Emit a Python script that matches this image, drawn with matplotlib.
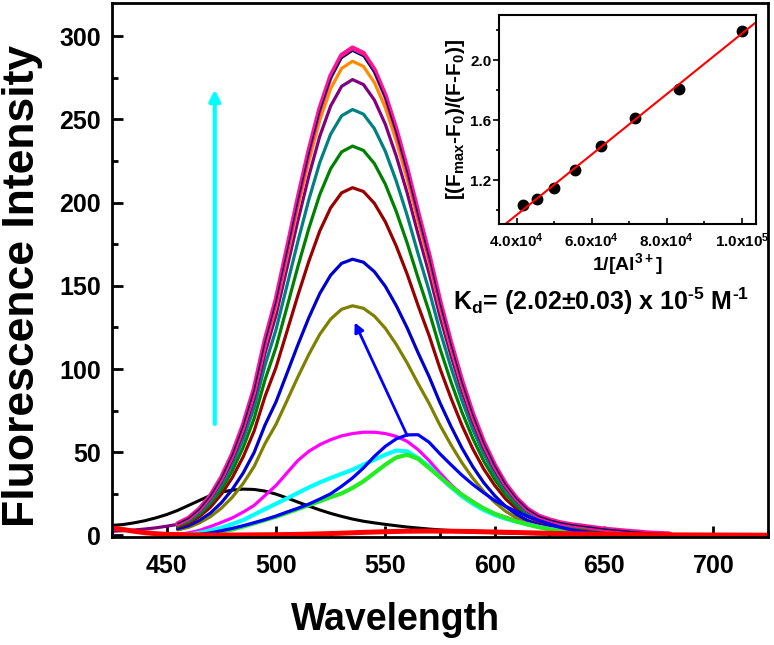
import numpy as np
import matplotlib
matplotlib.use("Agg")
import matplotlib.pyplot as plt
from matplotlib.ticker import MultipleLocator

plt.rcParams['font.family'] = ['Liberation Sans', 'DejaVu Sans']
plt.rcParams['font.weight'] = 'bold'
plt.rcParams['mathtext.fontset'] = 'custom'
plt.rcParams['mathtext.rm'] = 'Liberation Sans:bold'
plt.rcParams['mathtext.it'] = 'Liberation Sans:bold'
plt.rcParams['mathtext.bf'] = 'Liberation Sans:bold'
plt.rcParams['mathtext.default'] = 'rm'
plt.rcParams['lines.solid_joinstyle'] = 'round'
plt.rcParams['lines.solid_capstyle'] = 'round'

# ---- emission spectra ----
wl = np.arange(455, 685, 5)   # 455 ... 680 nm

pink = [7.0, 10.3, 15.8, 23.7, 34.6, 48.6, 66.2, 87.9, 117.2, 141.5,
        171.7, 202.2, 230.9, 256.4, 276.0, 288.6, 293.0, 289.8, 279.8, 264.3,
        243.8, 220.0, 193.7, 168.5, 140.6, 115.7, 92.9, 73.0, 56.0, 42.2,
        30.8, 22.3, 15.8, 11.7, 9.4, 7.6, 6.4, 5.6, 4.7, 3.8,
        3.2, 2.6, 2.1, 1.5, 1.2, 0.9]
navy = [7.0, 10.2, 15.7, 23.6, 34.3, 48.3, 65.8, 87.3, 116.4, 140.6,
        170.5, 200.8, 229.3, 254.6, 274.1, 286.6, 291.0, 287.8, 277.9, 262.5,
        242.1, 218.5, 192.4, 167.3, 139.7, 114.9, 92.2, 72.5, 55.6, 41.9,
        30.6, 22.1, 15.7, 11.6, 9.3, 7.6, 6.4, 5.5, 4.7, 3.8,
        3.2, 2.6, 2.0, 1.5, 1.2, 0.9]
orange = [6.8, 10.0, 15.4, 23.1, 33.6, 47.3, 64.4, 85.5, 114.0, 137.7,
          167.0, 196.7, 224.6, 249.4, 268.5, 280.7, 285.0, 281.9, 272.2, 257.1,
          237.1, 214.0, 188.4, 163.9, 136.8, 112.6, 90.3, 71.0, 54.4, 41.0,
          29.9, 21.7, 15.4, 11.4, 9.1, 7.4, 6.3, 5.4, 4.6, 3.7,
          3.1, 2.6, 2.0, 1.4, 1.1, 0.9]
purple_wl = [425, 430, 435, 440, 445, 450] + list(wl)
purple = [2.5, 2.8, 3.2, 3.8, 4.5, 5.5,
          6.6, 9.6, 14.8, 22.2, 32.3, 45.5, 61.9, 82.2, 109.6, 132.3,
          160.6, 189.1, 215.9, 239.8, 258.1, 269.9, 274.0, 271.0, 261.7, 247.1,
          228.0, 205.8, 181.1, 157.6, 131.5, 108.2, 86.9, 68.2, 52.3, 39.5,
          28.8, 20.8, 14.8, 11.0, 8.8, 7.1, 6.0, 5.2, 4.4, 3.6,
          3.0, 2.5, 1.9, 1.4, 1.1, 0.8]
teal = [6.1, 9.0, 13.8, 20.7, 30.2, 42.5, 57.9, 76.8, 102.4, 123.6,
        150.0, 176.6, 201.7, 224.0, 241.2, 252.2, 256.0, 253.2, 244.5, 230.9,
        213.0, 192.3, 169.2, 147.2, 122.9, 101.1, 81.2, 63.7, 48.9, 36.9,
        26.9, 19.5, 13.8, 10.2, 8.2, 6.7, 5.6, 4.9, 4.1, 3.3,
        2.8, 2.3, 1.8, 1.3, 1.0, 0.8]
green = [5.6, 8.2, 12.6, 19.0, 27.6, 38.8, 52.9, 70.2, 93.6, 113.0,
         137.1, 161.5, 184.4, 204.8, 220.4, 230.5, 234.0, 231.4, 223.5, 211.1,
         194.7, 175.7, 154.7, 134.6, 112.3, 92.4, 74.2, 58.3, 44.7, 33.7,
         24.6, 17.8, 12.6, 9.4, 7.5, 6.1, 5.1, 4.4, 3.7, 3.0,
         2.6, 2.1, 1.6, 1.2, 0.9, 0.7]
darkred = [5.0, 7.3, 11.3, 16.9, 24.7, 34.7, 47.2, 62.7, 83.6, 100.9,
           122.5, 144.2, 164.7, 182.9, 196.9, 205.9, 209.0, 206.7, 199.6, 188.5,
           173.9, 157.0, 138.1, 120.2, 100.3, 82.6, 66.3, 52.0, 39.9, 30.1,
           21.9, 15.9, 11.3, 8.4, 6.7, 5.4, 4.6, 4.0, 3.3, 2.7,
           2.3, 1.9, 1.5, 1.0, 0.8, 0.6]
blue = [4.0, 5.8, 9.0, 13.4, 19.6, 27.6, 37.5, 49.8, 66.4, 80.2,
        97.3, 114.5, 130.8, 145.3, 156.4, 163.5, 166.0, 164.2, 158.5, 149.7,
        138.1, 124.7, 109.7, 95.5, 79.7, 65.6, 52.6, 41.3, 31.7, 23.9,
        17.4, 12.6, 9.0, 6.6, 5.3, 4.3, 3.7, 3.2, 2.7, 2.2,
        1.8, 1.5, 1.2, 0.8, 0.7, 0.5]
olive = [3.3, 4.8, 7.5, 11.2, 16.3, 22.9, 31.2, 41.4, 55.2, 66.7,
         80.9, 95.2, 108.7, 120.8, 130.0, 135.9, 138.0, 136.5, 131.8, 124.5,
         114.8, 103.6, 91.2, 79.4, 66.2, 54.5, 43.7, 34.4, 26.4, 19.9,
         14.5, 10.5, 7.5, 5.5, 4.4, 3.6, 3.0, 2.6, 2.2, 1.8,
         1.5, 1.2, 1.0, 0.7, 0.6, 0.4]

magenta = [0.5, 1.5, 3.0, 5.3, 7.8, 10.5, 14.0, 18.0, 24.0, 30.0,
           37.5, 45.0, 50.5, 54.5, 57.5, 59.8, 61.2, 62.0, 62.0, 61.2,
           59.5, 56.5, 51.5, 45.0, 37.5, 30.5, 24.5, 20.5, 16.2, 13.0,
           11.0, 8.8, 7.2, 5.6, 4.2, 3.0, 2.0, 1.4, 0.9, 0.6,
           0.4, 0.3, 0.2, 0.2, 0.1, 0.1]
cyan = [0.0, 0.5, 1.5, 3.0, 4.6, 6.8, 9.2, 12.5, 15.8, 19.0,
        22.2, 25.5, 28.8, 31.8, 34.5, 37.0, 39.5, 42.5, 45.5, 48.5,
        51.0, 50.5, 46.5, 41.5, 35.0, 29.0, 23.5, 19.0, 15.2, 12.3,
        10.0, 8.2, 6.6, 5.1, 3.8, 2.7, 1.8, 1.2, 0.8, 0.5,
        0.3, 0.2, 0.1, 0.1, 0.1, 0.0]
lime = [0.0, 0.0, 0.3, 1.2, 2.2, 3.5, 5.3, 7.2, 9.2, 11.2,
        13.5, 15.8, 18.2, 20.5, 23.0, 25.2, 28.5, 32.5, 37.5, 42.5,
        46.8, 48.5, 46.0, 40.5, 35.0, 29.5, 24.5, 20.0, 16.2, 13.0,
        10.5, 8.4, 6.6, 5.0, 3.7, 2.6, 1.7, 1.1, 0.7, 0.4,
        0.3, 0.2, 0.1, 0.1, 0.0, 0.0]
blue60 = [0.0, 0.0, 0.5, 1.5, 2.8, 4.2, 5.8, 7.6, 9.5, 11.6,
          14.0, 16.3, 18.8, 21.8, 25.0, 29.5, 34.5, 40.5, 47.5, 53.5,
          58.0, 60.4, 60.5, 56.0, 49.0, 42.5, 36.2, 30.6, 25.6, 21.0,
          17.5, 14.3, 11.5, 9.0, 6.8, 4.8, 3.3, 2.2, 1.4, 0.9,
          0.6, 0.4, 0.3, 0.2, 0.1, 0.1]

black_wl = [425, 430, 435, 440, 445, 450, 455, 460, 465, 470, 475, 480, 485,
            490, 495, 500, 505, 510, 515, 520, 525, 530, 535, 540, 545, 550,
            555, 560, 565, 570, 575, 580, 590, 600, 610, 620, 640, 660, 680,
            700, 725]
black = [6.0, 6.5, 7.5, 8.8, 10.5, 12.5, 15.0, 18.0, 21.0, 24.0, 26.0, 27.2,
         27.8, 27.6, 26.6, 24.8, 22.5, 20.0, 17.6, 15.3, 13.2, 11.4, 9.8, 8.5,
         7.5, 6.6, 5.8, 5.0, 4.4, 3.8, 3.3, 2.9, 2.2, 1.6, 1.2, 0.9, 0.5, 0.3,
         0.2, 0.1, 0.1]

red_wl = [425, 430, 435, 440, 445, 450, 460, 470, 480, 490, 500, 510, 520,
          530, 540, 550, 560, 570, 580, 590, 600, 610, 620, 630, 640, 650,
          660, 680, 700, 725]
red = [4.5, 3.5, 2.5, 1.6, 1.0, 0.6, 0.3, 0.2, 0.2, 0.3, 0.4, 0.6, 0.9,
       1.3, 1.8, 2.2, 2.5, 2.6, 2.5, 2.3, 2.0, 1.7, 1.4, 1.1, 0.9, 0.7,
       0.5, 0.3, 0.2, 0.1]

# ---- Benesi-Hildebrand inset ----
inv_al = [41667, 45455, 50000, 55556, 62500, 71429, 83333, 100000]
ratio = [1.033, 1.071, 1.149, 1.267, 1.427, 1.613, 1.809, 2.195]

kd_text = r'K$_{d}$= (2.02±0.03) x 10$^{‐5}$ M$^{‐1}$'

fig = plt.figure(figsize=(7.74, 6.45), dpi=100)
ax = fig.add_axes([0.1447, 0.1674, 0.8475, 0.8279])

ax.plot(black_wl, black, color='black', lw=2.2)
ax.plot(wl, olive, color='#808000', lw=2.3)
ax.plot(wl, blue, color='#0000CC', lw=2.3)
ax.plot(wl, darkred, color='#990000', lw=2.3)
ax.plot(wl, green, color='#008000', lw=2.3)
ax.plot(wl, teal, color='#008080', lw=2.3)
ax.plot(purple_wl, purple, color='#800080', lw=2.3)
ax.plot(wl, orange, color='#FF8C00', lw=2.3)
ax.plot(wl, pink, color='#FF1493', lw=3.6)
ax.plot(wl, navy, color='#000060', lw=1.0)
ax.plot(wl, magenta, color='#FF00FF', lw=2.3)
ax.plot(wl, cyan, color='#00FFFF', lw=3.0)
ax.plot(wl, lime, color='#22EE22', lw=3.0)
ax.plot(wl, blue60, color='#0000FF', lw=2.3)
ax.plot(red_wl, red, color='#FF0000', lw=3.6)

ax.annotate('', xy=(472, 268), xytext=(472, 67),
            arrowprops=dict(arrowstyle='-|>', color='#00FFFF', lw=3,
                            mutation_scale=16, shrinkA=0, shrinkB=0))
ax.annotate('', xy=(536, 128), xytext=(560, 60),
            arrowprops=dict(arrowstyle='-|>', color='#0000FF', lw=2,
                            mutation_scale=14, shrinkA=0, shrinkB=0))

ax.set_xlim(425, 725)
ax.set_ylim(-1, 320)
ax.xaxis.set_major_locator(MultipleLocator(50))
ax.xaxis.set_minor_locator(MultipleLocator(25))
ax.yaxis.set_major_locator(MultipleLocator(50))
ax.yaxis.set_minor_locator(MultipleLocator(25))
ax.tick_params(which='both', direction='in', width=2)
ax.tick_params(which='major', length=8, labelsize=18)
ax.tick_params(which='minor', length=4.5)
ax.tick_params(axis='x', pad=12)
ax.tick_params(axis='y', pad=8)
for s in ax.spines.values():
    s.set_linewidth(2)

ax.set_xlabel('Wavelength', fontsize=27, fontweight='bold')
ax.xaxis.set_label_coords(0.433, -0.122)
ax.set_ylabel('Fluorescence Intensity', fontsize=32, fontweight='bold')
ax.yaxis.set_label_coords(-0.105, 0.47)

ax.text(0.52, 0.425, kd_text, transform=ax.transAxes, fontsize=18,
        fontweight='bold', va='baseline', ha='left')

# inset
ins = fig.add_axes([0.6447, 0.6527, 0.332, 0.324])
ins.plot(inv_al, ratio, 'o', color='black', ms=7.5)
xlo, xhi = 3.53e4, 1.038e5
slope, icpt = np.polyfit(inv_al, ratio, 1)
xx = np.array([xlo, xhi])
ins.plot(xx, slope * xx + icpt, color='red', lw=1.5)
ins.set_xlim(xlo, xhi)
ins.set_ylim(0.907, 2.3)
ins.set_xticks([4e4, 6e4, 8e4, 1e5])
ins.set_xticklabels([r'4.0x10$^{4}$', r'6.0x10$^{4}$', r'8.0x10$^{4}$',
                     r'1.0x10$^{5}$'])
ins.xaxis.set_minor_locator(MultipleLocator(1e4))
ins.set_yticks([1.2, 1.6, 2.0])
ins.yaxis.set_minor_locator(MultipleLocator(0.2))
ins.tick_params(axis='x', which='both', direction='in', width=1.2)
ins.tick_params(axis='y', which='both', direction='out', width=1.2)
ins.tick_params(which='major', length=4, labelsize=11)
ins.tick_params(which='minor', length=2.5)
ins.tick_params(axis='y', pad=1.5)
ins.tick_params(axis='x', pad=5)
for s in ins.spines.values():
    s.set_linewidth(1.5)
ins.set_xlabel(r'1/[Al$^{3+}$]', fontsize=14, fontweight='bold', labelpad=1)
ins.set_ylabel(r'[(F$_{max}$-F$_{0}$)/(F-F$_{0}$)]', fontsize=15,
               fontweight='bold', labelpad=2)

fig.savefig('out.png', dpi=100)
